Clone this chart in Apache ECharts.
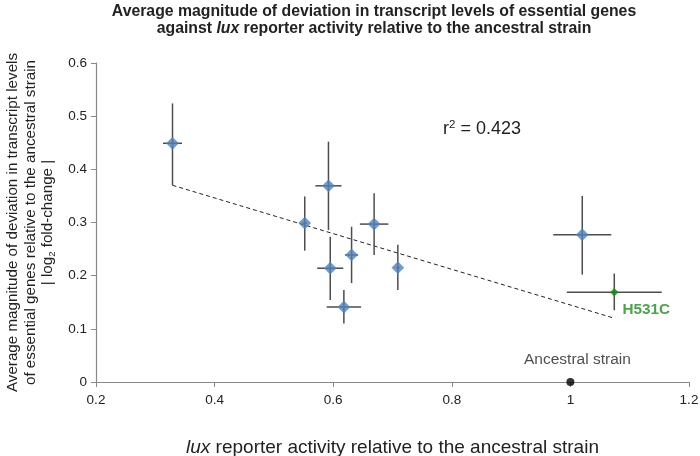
<!DOCTYPE html>
<html>
<head>
<meta charset="utf-8">
<script src="https://cdn.jsdelivr.net/npm/echarts@6/dist/echarts.min.js"></script>
<style>
  html, body { margin: 0; padding: 0; background: #fff; }
  #chart { width: 700px; height: 456px; }
</style>
</head>
<body>
<div id="chart"></div>
<script>
// mutant strains: lux activity (x), mean |log2 fold-change| (y), and their error bars
const luxActivity = [0.329, 0.552, 0.592, 0.595, 0.631, 0.618, 0.669, 0.709, 1.020];
const deviation   = [0.449, 0.299, 0.369, 0.214, 0.239, 0.141, 0.297, 0.215, 0.277];
const luxErr      = [0.016, 0.004, 0.022, 0.022, 0.011, 0.029, 0.024, 0.003, 0.049];
const devErrLow   = [0.079, 0.052, 0.083, 0.060, 0.053, 0.031, 0.058, 0.042, 0.075];
const devErrHigh  = [0.075, 0.050, 0.083, 0.059, 0.053, 0.032, 0.058, 0.043, 0.073];

// highlighted strain H531C
const h531c = { x: 1.074, y: 0.169, xErr: 0.08, yLow: 0.034, yHigh: 0.035 };
// ancestral reference point
const ancestral = [1, 0];

// regression line end points
const trendX = [0.329, 1.074];
const trendY = [0.370, 0.120];

const xTicks = [0.2, 0.4, 0.6, 0.8, 1, 1.2];
const yTicks = [0, 0.1, 0.2, 0.3, 0.4, 0.5, 0.6];

const font = '"Liberation Sans", Arial, sans-serif';

const errData = luxActivity.map((x, i) => [x, deviation[i], luxErr[i], devErrLow[i], devErrHigh[i]]);
errData.push([h531c.x, h531c.y, h531c.xErr, h531c.yLow, h531c.yHigh]);

function renderErr(params, api) {
  const x = api.value(0), y = api.value(1);
  const xe = api.value(2), lo = api.value(3), hi = api.value(4);
  const c = api.coord([x, y]);
  const l = api.coord([x - xe, y]);
  const r = api.coord([x + xe, y]);
  const t = api.coord([x, y + hi]);
  const b = api.coord([x, y - lo]);
  const style = { stroke: '#4d4d4d', lineWidth: 1.5 };
  return {
    type: 'group',
    children: [
      { type: 'line', shape: { x1: l[0], y1: c[1], x2: r[0], y2: c[1] }, style: style },
      { type: 'line', shape: { x1: c[0], y1: t[1], x2: c[0], y2: b[1] }, style: style }
    ]
  };
}

const chart = echarts.init(document.getElementById('chart'), null, { renderer: 'canvas' });

chart.setOption({
  animation: false,
  textStyle: { fontFamily: font },
  title: {
    left: 369,
    top: -2,
    textAlign: 'center',
    text: '{b|Average magnitude of deviation in transcript levels of essential genes}\n' +
          '{b|against }{bi|lux}{b| reporter activity relative to the ancestral strain}',
    textStyle: {
      rich: {
        b: { fontFamily: font, fontSize: 15.8, fontWeight: 'bold', color: '#222', lineHeight: 17 },
        bi: { fontFamily: font, fontSize: 15.8, fontWeight: 'bold', fontStyle: 'italic', color: '#222', lineHeight: 17 }
      }
    }
  },
  grid: { left: 96, right: 11, top: 63, bottom: 74, outerBoundsMode: 'none' },
  xAxis: {
    type: 'value',
    min: 0.2, max: 1.2, interval: 0.2,
    splitLine: { show: false },
    axisLine: { lineStyle: { color: '#888', width: 1.2 } },
    axisTick: { show: true, inside: false, length: 5, lineStyle: { color: '#888' } },
    axisLabel: {
      color: '#222', fontSize: 13.5, margin: 11,
      formatter: v => String(xTicks.find(t => Math.abs(t - v) < 1e-9) ?? v)
    },
    name: '{i|lux}{n| reporter activity relative to the ancestral strain}',
    nameLocation: 'middle',
    nameGap: 56,
    nameTextStyle: {
      rich: {
        i: { fontFamily: font, fontSize: 19, fontStyle: 'italic', color: '#222' },
        n: { fontFamily: font, fontSize: 19, color: '#222' }
      }
    }
  },
  yAxis: {
    type: 'value',
    min: 0, max: 0.6, interval: 0.1,
    splitLine: { show: false },
    axisLine: { show: true, lineStyle: { color: '#888', width: 1.2 } },
    axisTick: { show: true, length: 5, lineStyle: { color: '#888' } },
    axisLabel: {
      color: '#222', fontSize: 13.5, margin: 9,
      formatter: v => String(yTicks.find(t => Math.abs(t - v) < 1e-9) ?? v)
    },
    name: '{n|Average magnitude of deviation in transcript levels}\n' +
          '{n|of essential genes relative to the ancestral strain}\n' +
          '{n|| log}{s|2}{n| fold-change |}',
    nameLocation: 'middle',
    nameGap: 39,
    nameTextStyle: {
      align: 'center',
      rich: {
        n: { fontFamily: font, fontSize: 15.2, color: '#222', lineHeight: 17.5, align: 'center' },
        s: { fontFamily: font, fontSize: 9.5, color: '#222', lineHeight: 17.5, verticalAlign: 'bottom', padding: [6, 0, 0, 0] }
      }
    }
  },
  graphic: [
    {
      type: 'text',
      left: 443,
      top: 119,
      style: {
        text: '{n|r}{s|2}{n| = 0.423}',
        rich: {
          n: { fontFamily: font, fontSize: 18, fill: '#222' },
          s: { fontFamily: font, fontSize: 11.5, fill: '#222', verticalAlign: 'top', padding: [0, 0, 8, 0] }
        }
      }
    }
  ],
  series: [
    {
      type: 'line',
      data: trendX.map((x, i) => [x, trendY[i]]),
      symbol: 'none',
      lineStyle: { color: '#222', width: 1, type: [4, 3] },
      z: 1
    },
    {
      type: 'custom',
      renderItem: renderErr,
      data: errData,
      z: 2
    },
    {
      type: 'scatter',
      data: luxActivity.map((x, i) => [x, deviation[i]]),
      symbol: 'rect',
      symbolRotate: 45,
      symbolSize: 9,
      itemStyle: { color: '#4f81bd' },
      z: 3
    },
    {
      type: 'scatter',
      data: [[h531c.x, h531c.y]],
      symbol: 'rect',
      symbolRotate: 45,
      symbolSize: 6,
      itemStyle: { color: '#138a13' },
      label: {
        show: true, position: 'right', offset: [-1, 18],
        formatter: 'H531C',
        fontFamily: font, fontSize: 15.3, fontWeight: 'bold', color: '#1e8c1e'
      },
      z: 4
    },
    {
      type: 'scatter',
      data: [ancestral],
      symbol: 'circle',
      symbolSize: 8,
      itemStyle: { color: '#000' },
      label: {
        show: true, position: 'top', offset: [7, -5],
        formatter: 'Ancestral strain',
        fontFamily: font, fontSize: 15.5, color: '#222'
      },
      z: 4
    }
  ]
});
</script>
</body>
</html>
